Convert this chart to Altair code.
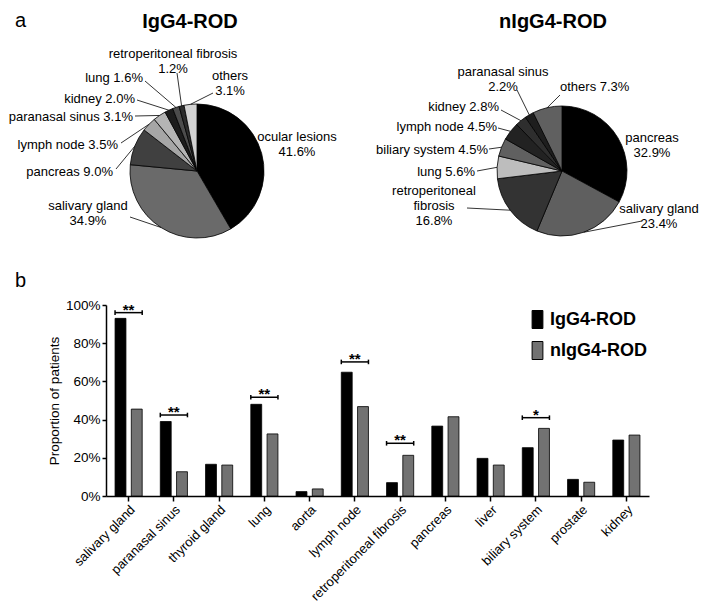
import altair as alt
import pandas as pd
import numpy as np

# ---------------- data ----------------
pie1_names = ["ocular lesions", "salivary gland", "pancreas", "lymph node", "paranasal sinus",
              "kidney", "lung", "retroperitoneal fibrosis", "others"]
pie1_values = [41.6, 34.9, 9.0, 3.5, 3.1, 2.0, 1.6, 1.2, 3.1]

pie2_names = ["pancreas", "salivary gland", "retroperitoneal fibrosis", "lung", "biliary system",
              "lymph node", "kidney", "paranasal sinus", "others"]
pie2_values = [32.9, 23.4, 16.8, 5.6, 4.5, 4.5, 2.8, 2.2, 7.3]

bar_categories = ["salivary gland", "paranasal sinus", "thyroid gland", "lung", "aorta", "lymph node",
                  "retroperitoneal fibrosis", "pancreas", "liver", "biliary system", "prostate", "kidney"]
igg4_values = [93.0, 39.0, 16.6, 48.0, 2.3, 64.8, 7.0, 36.6, 19.7, 25.3, 8.7, 29.3]
nigg4_values = [45.5, 12.7, 16.2, 32.5, 3.7, 46.8, 21.3, 41.5, 16.2, 35.4, 7.2, 31.9]
groups = ["IgG4-ROD", "nIgG4-ROD"]

sig_categories = ["salivary gland", "paranasal sinus", "lung", "lymph node",
                  "retroperitoneal fibrosis", "biliary system"]
sig_levels = [96.0, 42.4, 51.7, 70.2, 27.6, 41.0]
sig_marks = ["**", "**", "**", "**", "**", "*"]

# ---------------- style / layout ----------------
FONT = "Liberation Sans"
LINE_H = 15
pie1_colors = ["#000000", "#6a6a6a", "#404040", "#a6a6a6", "#b4b4b4", "#1c1c1c", "#4c4c4c", "#2c2c2c", "#d2d2d2"]
pie2_colors = ["#000000", "#5f5f5f", "#333333", "#bdbdbd", "#606060", "#222222", "#2e2e2e", "#1e1e1e", "#606060"]
bar_colors = ["#000000", "#727272"]

# label layout: name -> (separator, text x, text block centre y, align, leader end or None),
# offsets from pie centre (px, y down)
pie1_layout = {
    "ocular lesions": ("\n", 100, -27, "center", None),
    "salivary gland": ("\n", -109, 42, "center", (-67, 46)),
    "pancreas": (" ", -84, 1, "right", (-81, -2)),
    "lymph node": (" ", -79, -26, "right", (-76, -28)),
    "paranasal sinus": (" ", -64, -54, "right", (-62, -55)),
    "kidney": (" ", -62, -72, "right", (-60, -71)),
    "lung": (" ", -54, -93, "right", (-52, -90)),
    "retroperitoneal fibrosis": ("\n", -24, -110, "center", (-20, -98)),
    "others": ("\n", 33, -88, "center", (16, -78)),
}
pie2_layout = {
    "pancreas": ("\n", 90, -26, "center", None),
    "salivary gland": ("\n", 97, 45, "center", (80, 50)),
    "retroperitoneal fibrosis": ("\n", -128, 35, "center", (-95, 37)),
    "lung": (" ", -87, 1, "right", (-85, 0)),
    "biliary system": ("  ", -74, -21, "right", (-73, -22)),
    "lymph node": (" ", -65, -44, "right", (-64, -43)),
    "kidney": (" ", -63, -64, "right", (-61, -61)),
    "paranasal sinus": ("\n", -59, -92, "center", (-45, -81)),
    "others": (" ", -2, -84, "left", (-2, -76)),
}
pie2_display = {"retroperitoneal fibrosis": "retroperitoneal\nfibrosis"}


def pie_panel(names, values, colors, layout, display, R, xdom, ydom, title, title_xy, extra=None):
    W = xdom[1] - xdom[0]
    H = ydom[1] - ydom[0]
    xs = alt.Scale(domain=xdom, nice=False, zero=False)
    ys = alt.Scale(domain=ydom, nice=False, zero=False, reverse=True)
    df = pd.DataFrame({"name": names, "value": values, "order": list(range(len(names))), "color": colors})
    vals = np.array(values, dtype=float)
    cum = np.concatenate([[0.0], np.cumsum(vals)[:-1]])
    mids = (cum + vals / 2) / vals.sum() * 2 * np.pi

    trows, lrows = [], []
    for name, v, m in zip(names, values, mids):
        sep, tx, ty, align, lead = layout[name]
        text = f"{display.get(name, name)}{sep}{v:.1f}%"
        n_lines = text.count("\n") + 1
        trows.append({"text": text, "x": tx, "y": ty - (n_lines - 1) * LINE_H / 2, "align": align})
        if lead is not None:
            lrows.append({"x": lead[0], "y": lead[1], "x2": R * np.sin(m), "y2": -R * np.cos(m)})
    tdf = pd.DataFrame(trows)
    ldf = pd.DataFrame(lrows)

    arc = alt.Chart(df).mark_arc(outerRadius=R, stroke="black", strokeWidth=0.8).encode(
        theta=alt.Theta("value:Q", stack=True),
        order=alt.Order("order:Q"),
        color=alt.Color("color:N", scale=None),
        detail="name:N",
        x=alt.XDatum(0, type="quantitative", scale=xs, axis=None),
        y=alt.YDatum(0, type="quantitative", scale=ys, axis=None),
    )
    leaders = alt.Chart(ldf).mark_rule(color="black", strokeWidth=0.8).encode(
        x=alt.X("x:Q", scale=xs, axis=None), y=alt.Y("y:Q", scale=ys, axis=None),
        x2="x2:Q", y2="y2:Q",
    )
    layers = [arc, leaders]
    for a in ["left", "center", "right"]:
        sub = tdf[tdf["align"] == a]
        if len(sub) == 0:
            continue
        layers.append(alt.Chart(sub).mark_text(align=a, baseline="middle", fontSize=13, lineHeight=LINE_H,
                                               lineBreak="\n", font=FONT, color="black").encode(
            x=alt.X("x:Q", scale=xs, axis=None), y=alt.Y("y:Q", scale=ys, axis=None), text="text:N"))
    ttl = pd.DataFrame({"t": [title], "x": [title_xy[0]], "y": [title_xy[1]]})
    layers.append(alt.Chart(ttl).mark_text(fontSize=20, fontWeight="bold", font=FONT, color="black",
                                           align="center", baseline="middle").encode(
        x=alt.X("x:Q", scale=xs, axis=None), y=alt.Y("y:Q", scale=ys, axis=None), text="t:N"))
    if extra is not None:
        ex = pd.DataFrame({"t": [extra[0]], "x": [extra[1]], "y": [extra[2]]})
        layers.append(alt.Chart(ex).mark_text(fontSize=20, font=FONT, color="black",
                                              align="left", baseline="alphabetic").encode(
            x=alt.X("x:Q", scale=xs, axis=None), y=alt.Y("y:Q", scale=ys, axis=None), text="t:N"))
    return alt.layer(*layers).properties(width=W, height=H)


pie1 = pie_panel(pie1_names, pie1_values, pie1_colors, pie1_layout, {}, 67,
                 [-91, 161], [-163, 87], "IgG4-ROD", (-7, -149), extra=("a", -182, -144))
pie2 = pie_panel(pie2_names, pie2_values, pie2_colors, pie2_layout, pie2_display, 65,
                 [-204, 139], [-163, 87], "nIgG4-ROD", (-9, -149))

# ---------------- bar chart ----------------
bar_df = pd.DataFrame({
    "category": bar_categories * 2,
    "group": [groups[0]] * len(bar_categories) + [groups[1]] * len(bar_categories),
    "value": igg4_values + nigg4_values,
})
xsc = alt.Scale(domain=bar_categories, paddingInner=0.4, paddingOuter=0.2)
ysc = alt.Scale(domain=[0, 100], nice=False)
x_axis = alt.Axis(title=None, labelAngle=-45, labelFontSize=13, labelColor="black", labelFont=FONT,
                  domainColor="black", domainWidth=1.5, tickColor="black", tickWidth=1.5, tickSize=5,
                  labelPadding=2)
y_axis = alt.Axis(values=[0, 20, 40, 60, 80, 100], labelExpr="datum.value + '%'",
                  title="Proportion of patients", titleFontSize=13.5, titleFontWeight="normal",
                  titleColor="black", titleFont=FONT, labelFontSize=13.5, labelColor="black", labelFont=FONT,
                  domainColor="black", domainWidth=1.5, tickColor="black", tickWidth=1.5, tickSize=4,
                  labelPadding=2, titlePadding=4, grid=False)

bars = alt.Chart(bar_df).mark_bar(stroke="black", strokeWidth=0.8).encode(
    x=alt.X("category:N", scale=xsc, sort=bar_categories, axis=x_axis),
    xOffset=alt.XOffset("group:N", scale=alt.Scale(domain=groups, paddingInner=0.33, paddingOuter=0)),
    y=alt.Y("value:Q", scale=ysc, axis=y_axis),
    color=alt.Color("group:N", scale=alt.Scale(domain=groups, range=bar_colors),
                    legend=alt.Legend(title=None, orient="none", legendX=422, legendY=5, padding=0,
                                      symbolType="M-0.6,-1L0.6,-1L0.6,1L-0.6,1Z", symbolSize=324,
                                      symbolStrokeColor="black", symbolStrokeWidth=1,
                                      labelFontSize=18, labelFontWeight="bold", labelFont=FONT,
                                      labelColor="black", labelOffset=3, rowPadding=8)),
)

sig_df = pd.DataFrame({"category": sig_categories, "level": sig_levels, "mark": sig_marks})
sig_df["lo"] = sig_df["level"] - 1.2
sig_df["hi"] = sig_df["level"] + 1.2

bracket = alt.Chart(sig_df).mark_rule(color="black", strokeWidth=1.5).encode(
    x=alt.X("category:N", scale=xsc, sort=bar_categories, axis=x_axis, bandPosition=0),
    x2=alt.X2(field="category", bandPosition=1),
    y=alt.Y("level:Q", scale=ysc, axis=y_axis),
)
cap_l = alt.Chart(sig_df).mark_rule(color="black", strokeWidth=1.5).encode(
    x=alt.X("category:N", scale=xsc, sort=bar_categories, axis=x_axis, bandPosition=0),
    y=alt.Y("lo:Q", scale=ysc, axis=y_axis), y2="hi:Q",
)
cap_r = alt.Chart(sig_df).mark_rule(color="black", strokeWidth=1.5).encode(
    x=alt.X("category:N", scale=xsc, sort=bar_categories, axis=x_axis, bandPosition=1),
    y=alt.Y("lo:Q", scale=ysc, axis=y_axis), y2="hi:Q",
)
stars = alt.Chart(sig_df).mark_text(fontSize=15, fontWeight="bold", font=FONT, color="black",
                                    baseline="alphabetic", dy=2).encode(
    x=alt.X("category:N", scale=xsc, sort=bar_categories, axis=x_axis),
    y=alt.Y("level:Q", scale=ysc, axis=y_axis),
    text="mark:N",
)
b_label = alt.Chart(pd.DataFrame({"t": ["b"]})).mark_text(fontSize=20, font=FONT, color="black",
                                                          align="left", baseline="alphabetic").encode(
    x=alt.value(-91), y=alt.value(-18), text="t:N")
spacer = alt.Chart(pd.DataFrame({"t": [0]})).mark_rule(opacity=0).encode(
    x=alt.value(-98), x2=alt.value(-92), y=alt.value(0))

bar_chart = alt.layer(bars, bracket, cap_l, cap_r, stars, b_label, spacer).properties(width=543, height=191)

chart = alt.vconcat(
    alt.hconcat(pie1, pie2, spacing=0, bounds="flush"),
    bar_chart,
    spacing=13,
).resolve_scale(color="independent").resolve_legend(color="independent").properties(
    padding={"left": 0, "right": 0, "top": 0, "bottom": 0}
).configure(font=FONT).configure_view(strokeWidth=0)

chart.save("out.html", embed_options={"renderer": "svg", "actions": False})
